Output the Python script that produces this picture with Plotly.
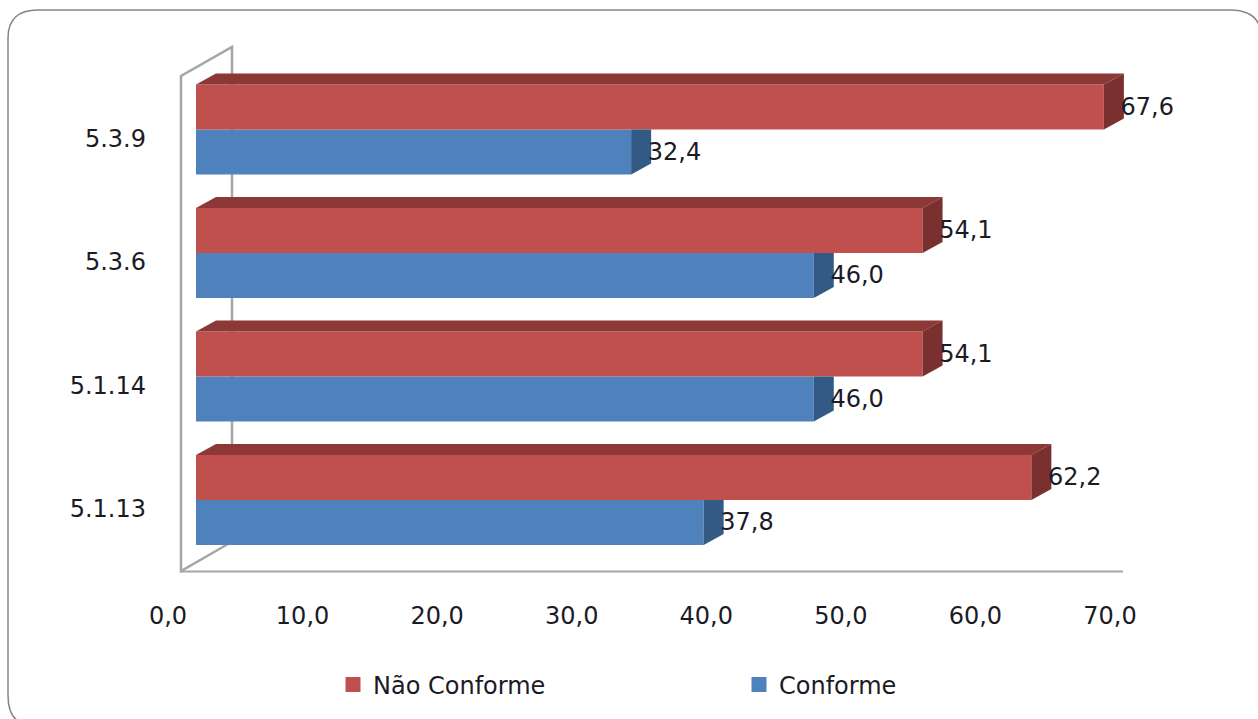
import plotly.graph_objects as go

# Survey items and compliance percentages
categories = ["5.1.13", "5.1.14", "5.3.6", "5.3.9"]
conforme = [37.8, 46.0, 46.0, 32.4]
nao_conforme = [62.2, 54.1, 54.1, 67.6]
axis_ticks = [0, 10, 20, 30, 40, 50, 60, 70]

W, H = 1258, 719
L, R, T, B = 150, 1200, 40, 571  # plot area in pixels
FONT = dict(family="DejaVu Sans", size=24, color="#1b1b26")
RED, RED_TOP, RED_SIDE = "#C0504D", "#8C3836", "#7A302E"
BLUE, BLUE_SIDE = "#4F81BD", "#335A85"

# Scales: bars use one pair of axes, the offset labels of the 3-D look use another
PX_PER_UNIT = 13.43
ZERO_PX = 196
SLOT_PX = 123.5
BAR_CENTRE_PX = 500
LABEL_CENTRE_PX = 509
TICK_ZERO_PX = 168
TICK_PX_PER_UNIT = 13.457
BAR_WIDTH = 45 / SLOT_PX
DEPTH_X = 20 / PX_PER_UNIT
DEPTH_Y = 11 / SLOT_PX
LABEL_SHIFT_Y = 1.5 / SLOT_PX


def px_x(px):
    return (px - ZERO_PX) / PX_PER_UNIT


def px_y(px):
    return (BAR_CENTRE_PX - px) / SLOT_PX


def paper_x(px):
    return (px - L) / (R - L)


def paper_y(py):
    return (B - py) / (B - T)


positions = list(range(len(categories)))
fig = go.Figure()

fig.add_bar(y=positions, x=conforme, orientation="h", marker=dict(color=BLUE, line_width=0),
            width=BAR_WIDTH, offset=-BAR_WIDTH, showlegend=False, hoverinfo="skip")
fig.add_bar(y=positions, x=nao_conforme, orientation="h", marker=dict(color=RED, line_width=0),
            width=BAR_WIDTH, offset=0, showlegend=False, hoverinfo="skip")

# Extruded faces of every bar, derived from its value
for pos, blue, red in zip(positions, conforme, nao_conforme):
    fig.add_scatter(
        x=[blue, blue + DEPTH_X, blue + DEPTH_X, blue, blue],
        y=[pos - BAR_WIDTH, pos - BAR_WIDTH + DEPTH_Y, pos, pos, pos - BAR_WIDTH],
        fill="toself", fillcolor=BLUE_SIDE, mode="none", showlegend=False, hoverinfo="skip")
    fig.add_scatter(
        x=[0, DEPTH_X, red + DEPTH_X, red, 0],
        y=[pos + BAR_WIDTH, pos + BAR_WIDTH + DEPTH_Y, pos + BAR_WIDTH + DEPTH_Y, pos + BAR_WIDTH, pos + BAR_WIDTH],
        fill="toself", fillcolor=RED_TOP, mode="none", showlegend=False, hoverinfo="skip")
    fig.add_scatter(
        x=[red, red + DEPTH_X, red + DEPTH_X, red, red],
        y=[pos, pos + DEPTH_Y, pos + BAR_WIDTH + DEPTH_Y, pos + BAR_WIDTH, pos],
        fill="toself", fillcolor=RED_SIDE, mode="none", showlegend=False, hoverinfo="skip")

# Value labels sit just past the extruded end of each bar
fig.add_scatter(
    x=[v + DEPTH_X - 0.25 for v in conforme],
    y=[p - BAR_WIDTH / 2 - LABEL_SHIFT_Y for p in positions],
    mode="text", text=[f"{v:.1f}".replace(".", ",") for v in conforme],
    textposition="middle right", textfont=FONT, cliponaxis=False,
    showlegend=False, hoverinfo="skip")
fig.add_scatter(
    x=[v + DEPTH_X - 0.25 for v in nao_conforme],
    y=[p + BAR_WIDTH / 2 - LABEL_SHIFT_Y for p in positions],
    mode="text", text=[f"{v:.1f}".replace(".", ",") for v in nao_conforme],
    textposition="middle right", textfont=FONT, cliponaxis=False,
    showlegend=False, hoverinfo="skip")

# Legend swatches
fig.add_scatter(x=[None], y=[None], mode="markers", name="Não Conforme",
                marker=dict(symbol="square", size=15, color=RED))
fig.add_scatter(x=[None], y=[None], mode="markers", name="Conforme",
                marker=dict(symbol="square", size=15, color=BLUE))

# Carrier trace that keeps the label axes alive
fig.add_scatter(x=axis_ticks[:1], y=positions[:1], xaxis="x2", yaxis="y2", mode="markers",
                marker=dict(opacity=0), showlegend=False, hoverinfo="skip")

fig.update_layout(
    width=W, height=H,
    margin=dict(l=L, r=W - R, t=T, b=H - B, pad=0),
    paper_bgcolor="white", plot_bgcolor="rgba(0,0,0,0)",
    font=FONT,
    separators=",.",
    barmode="overlay",
    xaxis=dict(range=[px_x(L), px_x(R)], visible=False, fixedrange=True),
    yaxis=dict(range=[px_y(B), px_y(T)], visible=False, fixedrange=True),
    xaxis2=dict(
        overlaying="x", anchor="y2", side="bottom",
        range=[(L - TICK_ZERO_PX) / TICK_PX_PER_UNIT, (R - TICK_ZERO_PX) / TICK_PX_PER_UNIT],
        tickvals=axis_ticks, tickformat=".1f",
        ticks="outside", ticklen=23, tickcolor="rgba(0,0,0,0)",
        showgrid=False, zeroline=False, showline=False, tickfont=FONT, fixedrange=True),
    yaxis2=dict(
        overlaying="y", anchor="x2", side="left",
        range=[(LABEL_CENTRE_PX - B) / SLOT_PX, (LABEL_CENTRE_PX - T) / SLOT_PX],
        tickvals=positions, ticktext=categories,
        ticks="", ticklabelstandoff=3, showgrid=False, zeroline=False, showline=False,
        tickfont=FONT, fixedrange=True),
    legend=dict(
        orientation="h", xref="paper", yref="paper", xanchor="left", yanchor="middle",
        x=paper_x(333), y=paper_y(685), entrywidth=361, entrywidthmode="pixels",
        font=FONT, bgcolor="rgba(0,0,0,0)", traceorder="normal",
        itemclick=False, itemdoubleclick=False),
    shapes=[
        # Chart card with rounded corners
        dict(type="path", xref="paper", yref="paper",
             path=(f"M {paper_x(8)} {paper_y(38)} Q {paper_x(8)} {paper_y(10)} {paper_x(38)} {paper_y(10)} "
                   f"L {paper_x(1230)} {paper_y(10)} Q {paper_x(1262)} {paper_y(10)} {paper_x(1262)} {paper_y(40)} "
                   f"L {paper_x(1262)} {paper_y(724)} L {paper_x(30)} {paper_y(724)} "
                   f"Q {paper_x(8)} {paper_y(724)} {paper_x(8)} {paper_y(695)} Z"),
             line=dict(color="#858585", width=1.5), layer="below"),
        # Side wall and floor edges of the 3-D box
        dict(type="path", xref="paper", yref="paper",
             path=(f"M {paper_x(232)} {paper_y(520)} L {paper_x(232)} {paper_y(47)} "
                   f"L {paper_x(181)} {paper_y(76)} L {paper_x(181)} {paper_y(571)} "
                   f"L {paper_x(228)} {paper_y(544)}"),
             line=dict(color="#a6a6a6", width=2.5), layer="below"),
        dict(type="line", xref="paper", yref="paper",
             x0=paper_x(181), x1=paper_x(1123), y0=paper_y(571.5), y1=paper_y(571.5),
             line=dict(color="#a6a6a6", width=2), layer="below"),
    ],
)

fig.write_html("out.html", config=dict(displayModeBar=False))
